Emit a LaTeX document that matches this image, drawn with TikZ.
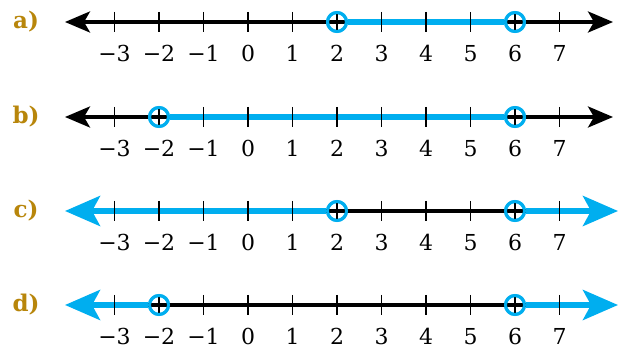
\documentclass[tikz,border=0pt]{standalone}
\usepackage{fontspec}
\setmainfont{DejaVu Serif}
\usetikzlibrary{arrows.meta}
\definecolor{skyb}{RGB}{0,174,239}
\definecolor{labgold}{RGB}{184,134,11}
\begin{document}
\begin{tikzpicture}[x=1pt,y=1pt,
  blackline/.style={line width=3.5pt,black},
  blueline/.style={line width=5.5pt,skyb},
  bkarrow/.style={{Stealth[length=25pt,width=21pt,inset=6pt]}-{Stealth[length=25pt,width=21pt,inset=6pt]}},
  blutip/.tip={Stealth[length=35pt,width=30pt,inset=8pt]},
  opencirc/.style={circle,draw=skyb,line width=3pt,minimum size=19pt,inner sep=0pt},
  ticklab/.style={font=\fontsize{22}{26}\selectfont,inner sep=0pt,text depth=0pt},
  rowlab/.style={font=\fontsize{23}{27}\selectfont\bfseries,text=labgold,inner sep=0pt},
  tickmark/.style={line width=1.3pt,black}]
\useasboundingbox (0,0) rectangle (619,-347);

% ---------- row a ----------
\node[rowlab] (la) at (26,-22) {a)};
\coordinate (aL) at (65,-22); \coordinate (aR) at (613,-22);
\draw[blackline,bkarrow] (aL) -- (aR);
\node[opencirc] (a2) at (337,-22) {};
\node[opencirc] (a6) at (515,-22) {};
\draw[blueline] (a2) -- (a6);

% ---------- row b ----------
\node[rowlab] (lb) at (26,-117) {b)};
\coordinate (bL) at (65,-117); \coordinate (bR) at (613,-117);
\draw[blackline,bkarrow] (bL) -- (bR);
\node[opencirc] (bm2) at (159,-117) {};
\node[opencirc] (b6) at (515,-117) {};
\draw[blueline] (bm2) -- (b6);

% ---------- row c ----------
\node[rowlab] (lc) at (26,-211) {c)};
\coordinate (cL) at (65,-211); \coordinate (cR) at (618,-211);
\node[opencirc] (c2) at (337,-211) {};
\node[opencirc] (c6) at (515,-211) {};
\draw[blackline] (c2.west) -- (c6.east);
\draw[blueline,blutip-] (cL) -- (c2);
\draw[blueline,-blutip] (c6) -- (cR);

% ---------- row d ----------
\node[rowlab] (ld) at (26,-305) {d)};
\coordinate (dL) at (65,-305); \coordinate (dR) at (618,-305);
\node[opencirc] (dm2) at (159,-305) {};
\node[opencirc] (d6) at (515,-305) {};
\draw[blackline] (dm2.west) -- (d6.east);
\draw[blueline,blutip-] (dL) -- (dm2);
\draw[blueline,-blutip] (d6) -- (dR);

% ---------- ticks and numbers ----------
\foreach \r/\yy in {a/22,b/117,c/211,d/305}{
  \foreach \u/\t in {-3/−3,-2/−2,-1/−1,0/0,1/1,2/2,3/3,4/4,5/5,6/6,7/7}{
    \pgfmathsetmacro\xx{248+44.5*\u}
    \draw[tickmark] (\xx,-\yy+10) -- (\xx,-\yy-10);
    \node[ticklab,anchor=base] (n\r\u) at (\xx,-\yy-39.5) {\t};
  }
}
% redraw circles on top
\foreach \n in {a2,a6,bm2,b6,c2,c6,dm2,d6}{
  \draw[skyb,line width=3pt] (\n.center) circle[radius=9.5pt];
}
\end{tikzpicture}
\end{document}
